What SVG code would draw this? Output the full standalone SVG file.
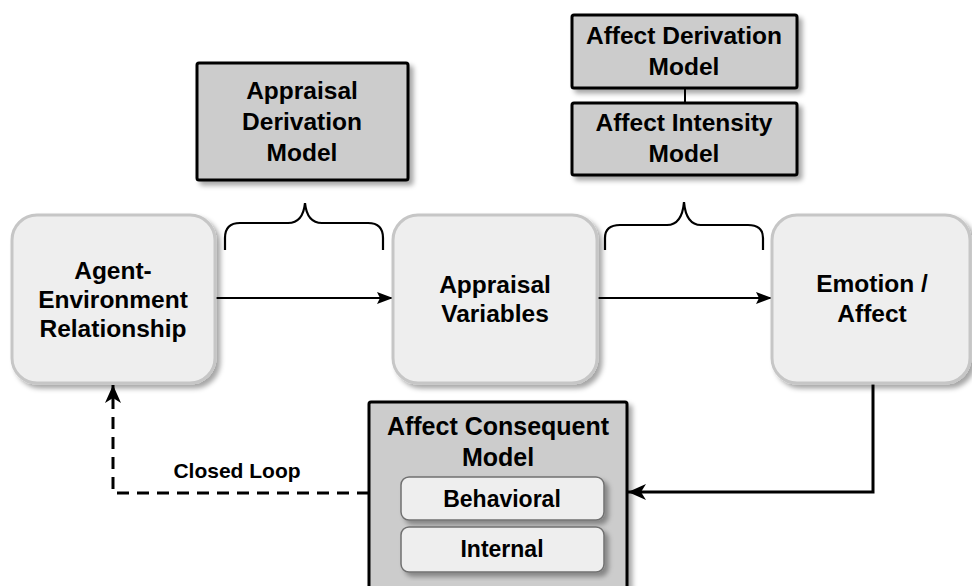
<svg xmlns="http://www.w3.org/2000/svg" width="972" height="586" viewBox="0 0 972 586">
<defs>
<filter id="sh" x="-10%" y="-10%" width="130%" height="130%">
<feDropShadow dx="4" dy="4" stdDeviation="2.5" flood-color="#000" flood-opacity="0.35"/>
</filter>
<marker id="ah" viewBox="0 0 16 12" refX="16" refY="6" markerWidth="16" markerHeight="12" markerUnits="userSpaceOnUse" orient="auto">
<path d="M0,0 L16,6 L0,12 L3,6 Z" fill="#000"/>
</marker>
<marker id="ahb" viewBox="0 0 18 16" refX="18" refY="8" markerWidth="18" markerHeight="16" markerUnits="userSpaceOnUse" orient="auto">
<path d="M0,0 L18,8 L0,16 L5,8 Z" fill="#000"/>
</marker>
</defs>
<style>
.node{fill:#eeeeee;stroke:#c6c6c6;stroke-width:3;filter:url(#sh)}
.model{fill:#cccccc;stroke:#000;stroke-width:3;filter:url(#sh)}
.sub{fill:#eeeeee;stroke:#707070;stroke-width:1.5;filter:url(#sh)}
text{font-family:"Liberation Sans",Arial,sans-serif;font-weight:bold;fill:#000;text-anchor:middle}
.t{font-size:24.5px}
.ts{font-size:23px}
.tl{font-size:21px}
.brace{fill:none;stroke:#000;stroke-width:2.2}
.conn{fill:none;stroke:#000}
</style>

<g id="connectors">
<line class="conn" x1="215" y1="298" x2="393" y2="298" stroke-width="2" marker-end="url(#ah)"/>
<line class="conn" x1="597" y1="298" x2="772" y2="298" stroke-width="2" marker-end="url(#ah)"/>
<polyline class="conn" points="873,383 873,492 628,492" stroke-width="3" marker-end="url(#ahb)"/>
<polyline class="conn" points="369,493 113,493 113,385" stroke-width="3" stroke-dasharray="12,8" marker-end="url(#ahb)"/>
<line class="conn" x1="685" y1="88" x2="685" y2="103" stroke-width="2"/>
<path class="brace" d="M225,250 L225,238 Q225,223 240,223 L288,223 Q303,223 305,203 Q307,223 322,223 L368,223 Q383,223 383,238 L383,250"/>
<path class="brace" d="M605,250 L605,238 Q605,225 620,225 L667,225 Q682,225 684,202 Q686,225 701,225 L748,225 Q763,225 763,238 L763,250"/>
<text class="tl" x="237" y="478">Closed Loop</text>
</g>

<g id="agent-environment">
<rect class="node" x="12" y="215" width="203" height="168" rx="25"/>
<text class="t" x="113" y="279">Agent-</text>
<text class="t" x="113" y="308">Environment</text>
<text class="t" x="113" y="337">Relationship</text>
</g>

<g id="appraisal-variables">
<rect class="node" x="393" y="215" width="204" height="168" rx="25"/>
<text class="t" x="495" y="293">Appraisal</text>
<text class="t" x="495" y="322">Variables</text>
</g>

<g id="emotion-affect">
<rect class="node" x="772" y="215" width="198" height="168" rx="25"/>
<text class="t" x="872" y="292">Emotion /</text>
<text class="t" x="872" y="322">Affect</text>
</g>

<g id="appraisal-derivation-model">
<rect class="model" x="197" y="63" width="211" height="117" rx="2"/>
<text class="t" x="302" y="99">Appraisal</text>
<text class="t" x="302" y="130">Derivation</text>
<text class="t" x="302" y="161">Model</text>
</g>

<g id="affect-derivation-model">
<rect class="model" x="572" y="15" width="225" height="73" rx="2"/>
<text class="t" x="684" y="44">Affect Derivation</text>
<text class="t" x="684" y="75">Model</text>
</g>

<g id="affect-intensity-model">
<rect class="model" x="572" y="103" width="225" height="72" rx="2"/>
<text class="t" x="684" y="131">Affect Intensity</text>
<text class="t" x="684" y="162">Model</text>
</g>

<g id="affect-consequent-model">
<rect class="model" x="369" y="402" width="258" height="200" rx="2"/>
<text class="t" x="498" y="435" style="font-size:25px">Affect Consequent</text>
<text class="t" x="498" y="466" style="font-size:25px">Model</text>
<g id="behavioral">
<rect class="sub" x="401" y="477" width="203" height="43" rx="8"/>
<text class="ts" x="502" y="507">Behavioral</text>
</g>
<g id="internal">
<rect class="sub" x="401" y="527" width="203" height="45" rx="8"/>
<text class="ts" x="502" y="557">Internal</text>
</g>
</g>
</svg>
